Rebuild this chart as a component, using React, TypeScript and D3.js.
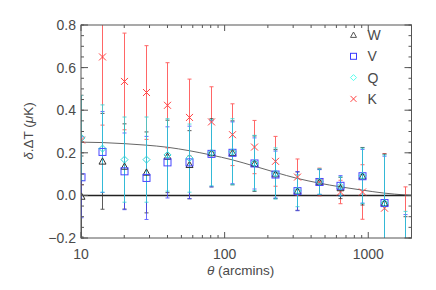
import * as d3 from 'd3'

// angular scale bins (arcmins)
const thetas = [10, 14.1, 20, 28.3, 40, 56.6, 80, 113, 160, 226, 320, 453, 640, 905, 1280, 1810]

const wVals = [-0.005, 0.16, 0.136, 0.108, 0.183, 0.144, 0.2, 0.2, 0.149, 0.1, 0.02, 0.063, 0.035, 0.09, -0.036, -0.3]
const wErr = [0.19, 0.225, 0.2, 0.19, 0.17, 0.16, 0.16, 0.15, 0.13, 0.115, 0.09, 0.06, 0.05, 0.135, 0.23, 0.2]
const vVals = [0.085, 0.204, 0.113, 0.082, 0.155, 0.155, 0.195, 0.2, 0.15, 0.098, 0.02, 0.063, 0.045, 0.09, -0.036, -0.3]
const vErr = [0.19, 0.19, 0.18, 0.195, 0.167, 0.17, 0.155, 0.145, 0.12, 0.11, 0.092, 0.058, 0.048, 0.126, 0.22, 0.21]
const qVals = [0.27, 0.22, 0.168, 0.168, 0.19, 0.175, 0.2, 0.205, 0.152, 0.103, 0.022, 0.065, 0.042, 0.092, -0.036, -0.3]
const qErr = [0.2, 0.205, 0.2, 0.2, 0.17, 0.16, 0.155, 0.155, 0.13, 0.12, 0.075, 0.06, 0.045, 0.13, 0.226, 0.225]
const kVals = [0.26, 0.65, 0.535, 0.483, 0.423, 0.366, 0.345, 0.285, 0.227, 0.16, 0.086, 0.063, 0.016, 0.016, -0.06, -0.35]
const kErr = [0.21, 0.32, 0.227, 0.22, 0.2, 0.18, 0.165, 0.145, 0.125, 0.117, 0.085, 0.065, 0.055, 0.128, 0.256, 0.39]

// smooth model curve
const modelTheta = [10, 14.1, 20, 28.3, 40, 56.6, 80, 113, 160, 226, 320, 453, 640, 905, 1280, 1810, 2000]
const modelVals = [0.25, 0.248, 0.243, 0.236, 0.226, 0.21, 0.19, 0.167, 0.138, 0.108, 0.08, 0.058, 0.04, 0.025, 0.011, 0.002, 0.0]

const xMajor = [10, 100, 1000]
const xMinor = [20, 30, 40, 50, 60, 70, 80, 90, 200, 300, 400, 500, 600, 700, 800, 900, 2000]
const yMajor = [-0.2, 0, 0.2, 0.4, 0.6, 0.8]
const yLabels = ['\u22120.2', '0.0', '0.2', '0.4', '0.6', '0.8']

const bands = [
  { name: 'K', vals: kVals, err: kErr, color: '#ff4040', shape: 'x' },
  { name: 'W', vals: wVals, err: wErr, color: '#333333', shape: 'tri' },
  { name: 'V', vals: vVals, err: vErr, color: '#4646ff', shape: 'sq' },
  { name: 'Q', vals: qVals, err: qErr, color: '#2fd6d6', shape: 'dia' },
]
const legend = [
  { name: 'W', color: '#555555', shape: 'tri' },
  { name: 'V', color: '#3a3aff', shape: 'sq' },
  { name: 'Q', color: '#55ffee', shape: 'dia' },
  { name: 'K', color: '#ff4444', shape: 'x' },
]

const W = 436
const H = 290
const margin = { top: 25, right: 24.5, bottom: 52, left: 81 }
const FONT = '"Liberation Sans", Arial, sans-serif'
const AXIS = '#555'
const TXT = '#4a4a4a'

function Marker({ shape, x, y, color, s = 3.5 }: { shape: string; x: number; y: number; color: string; s?: number }) {
  if (shape === 'tri')
    return <path d={`M${x},${y - s}L${x + s},${y + s * 0.8}L${x - s},${y + s * 0.8}Z`} fill="none" stroke={color} strokeWidth={1} />
  if (shape === 'sq')
    return <rect x={x - s} y={y - s} width={2 * s} height={2 * s} fill="none" stroke={color} strokeWidth={1} />
  if (shape === 'dia')
    return <path d={`M${x},${y - s}L${x + s},${y}L${x},${y + s}L${x - s},${y}Z`} fill="none" stroke={color} strokeWidth={1} />
  return (
    <path d={`M${x - s},${y - s}L${x + s},${y + s}M${x - s},${y + s}L${x + s},${y - s}`} fill="none" stroke={color} strokeWidth={1} />
  )
}

export default function App() {
  const iw = W - margin.left - margin.right
  const ih = H - margin.top - margin.bottom
  const x = d3.scaleLog().domain([10, 2000]).range([0, iw])
  const y = d3.scaleLinear().domain([-0.2, 0.8]).range([ih, 0])
  const yMinor = d3.range(-0.2, 0.8001, 0.05)

  const line = d3
    .line<number>()
    .x((_, i) => x(modelTheta[i]))
    .y(d => y(d))
    .curve(d3.curveMonotoneX)

  return (
    <svg width={W} height={H} style={{ position: 'absolute', left: 0, top: 0, background: '#fff' }} fontFamily={FONT}>
      <defs>
        <clipPath id="plot">
          <rect x={0} y={0} width={iw} height={ih} />
        </clipPath>
      </defs>
      <g transform={`translate(${margin.left},${margin.top})`}>
        <g clipPath="url(#plot)">
          <path d={line(modelVals) || ''} fill="none" stroke="#666" strokeWidth={1} />
          <line x1={0} x2={iw} y1={y(0)} y2={y(0)} stroke="#222" strokeWidth={1.5} />
          {bands.map(b =>
            thetas.map((t, i) => {
              const cx = Math.round(x(t)) + 0.5
              const top = y(b.vals[i] + b.err[i])
              const bot = y(b.vals[i] - b.err[i])
              return (
                <g key={b.name + i} opacity={0.8}>
                  <line x1={cx} x2={cx} y1={top} y2={bot} stroke={b.color} strokeWidth={1} />
                  <line x1={cx - 2} x2={cx + 2} y1={top} y2={top} stroke={b.color} strokeWidth={1} />
                  <line x1={cx - 2} x2={cx + 2} y1={bot} y2={bot} stroke={b.color} strokeWidth={1} />
                </g>
              )
            })
          )}
          {bands.map(b =>
            thetas.map((t, i) => (
              <Marker key={'m' + b.name + i} shape={b.shape} x={Math.round(x(t)) + 0.5} y={y(b.vals[i])} color={b.color} />
            ))
          )}
        </g>

        {/* frame */}
        <rect x={0} y={0} width={iw} height={ih} fill="none" stroke={AXIS} strokeWidth={1} />

        {/* x ticks, bottom and top */}
        {xMajor.map(t => (
          <g key={'xM' + t}>
            <line x1={x(t)} x2={x(t)} y1={ih} y2={ih - 6} stroke={AXIS} />
            <line x1={x(t)} x2={x(t)} y1={0} y2={6} stroke={AXIS} />
            <text x={x(t)} y={ih + 21} textAnchor="middle" fontSize={14} fill={TXT}>
              {t}
            </text>
          </g>
        ))}
        {xMinor.map(t => (
          <g key={'xm' + t}>
            <line x1={x(t)} x2={x(t)} y1={ih} y2={ih - 3} stroke={AXIS} />
            <line x1={x(t)} x2={x(t)} y1={0} y2={3} stroke={AXIS} />
          </g>
        ))}

        {/* y ticks, left and right */}
        {yMinor.map(v => (
          <g key={'ym' + v.toFixed(2)}>
            <line x1={0} x2={3} y1={y(v)} y2={y(v)} stroke={AXIS} />
            <line x1={iw} x2={iw - 3} y1={y(v)} y2={y(v)} stroke={AXIS} />
          </g>
        ))}
        {yMajor.map((v, i) => (
          <g key={'yM' + v}>
            <line x1={0} x2={7} y1={y(v)} y2={y(v)} stroke={AXIS} />
            <line x1={iw} x2={iw - 7} y1={y(v)} y2={y(v)} stroke={AXIS} />
            <text x={-5} y={y(v) + 5} textAnchor="end" fontSize={14} fill={TXT}>
              {yLabels[i]}
            </text>
          </g>
        ))}

        {/* legend */}
        {legend.map((l, i) => (
          <g key={'lg' + l.name} transform={`translate(${iw - 58},${10 + i * 21.3})`}>
            <Marker shape={l.shape} x={0} y={0} color={l.color} s={3} />
            <text x={14} y={5} fontSize={14} fill={TXT}>
              {l.name}
            </text>
          </g>
        ))}
      </g>

      {/* axis titles */}
      <text x={207} y={275} fontSize={13.5} fill={TXT}>
        <tspan fontStyle="italic">θ</tspan> (arcmins)
      </text>
      <text transform="translate(33,131) rotate(-90)" textAnchor="middle" fontSize={13.5} fill={TXT}>
        <tspan fontStyle="italic">δ</tspan>.ΔT (<tspan fontStyle="italic">μ</tspan>K)
      </text>
    </svg>
  )
}
